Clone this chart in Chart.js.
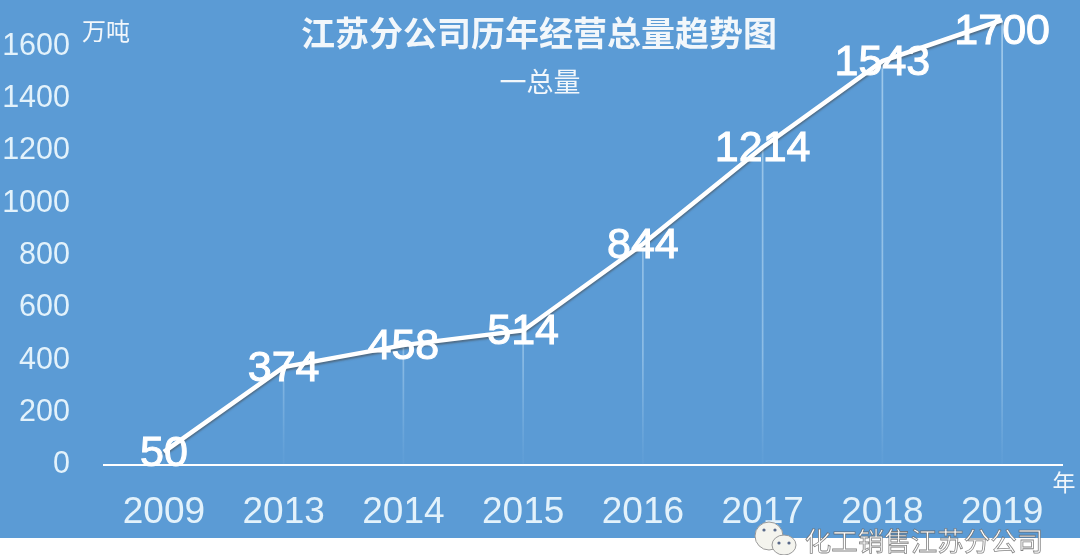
<!DOCTYPE html>
<html>
<head>
<meta charset="utf-8">
<title>江苏分公司历年经营总量趋势图</title>
<script src="https://cdn.jsdelivr.net/npm/chart.js@4/dist/chart.umd.min.js"></script>
<style>
    html, body { margin: 0; padding: 0; background: #fff; overflow: hidden; }
    #box { position: relative; width: 1080px; height: 555px; }
</style>
</head>
<body>
<div id="box"><canvas id="graficoLinha"></canvas></div>
<script>
const anos = ["2009", "2013", "2014", "2015", "2016", "2017", "2018", "2019"];
const totais = [50, 374, 458, 514, 844, 1214, 1543, 1700];
const ticksY = [0, 200, 400, 600, 800, 1000, 1200, 1400, 1600];

const titulo = "江苏分公司历年经营总量趋势图";
const legenda = "一总量";
const unidadeY = "万吨";
const unidadeX = "年";
const marcaDagua = "化工销售江苏分公司";

const azul = "#5b9bd5";
const claro = "#e3f2fb";
const fonte = '"Liberation Sans", "Noto Sans CJK SC", sans-serif';
const fonteCJK = '"Noto Sans CJK SC", sans-serif';

function texto(ctx, str, x, y, font, cor, align) {
    ctx.font = font;
    ctx.fillStyle = cor;
    ctx.textAlign = align || "center";
    ctx.textBaseline = "middle";
    ctx.fillText(str, x, y);
}

// fundo azul (a faixa de baixo fica branca)
const fundo = {
    id: "fundo",
    beforeDraw(chart) {
        const ctx = chart.ctx;
        ctx.save();
        ctx.fillStyle = azul;
        ctx.fillRect(0, 0, 1080, 538);
        ctx.restore();
    }
};

// sombra da linha
const sombra = {
    id: "sombra",
    beforeDatasetDraw(chart, args) {
        if (args.index !== 0) return;
        chart.ctx.save();
        chart.ctx.shadowColor = "rgba(70,70,70,0.55)";
        chart.ctx.shadowBlur = 2;
        chart.ctx.shadowOffsetY = 2;
    },
    afterDatasetDraw(chart, args) {
        if (args.index === 0) chart.ctx.restore();
    }
};

// valores, titulos e marca d'agua
const textos = {
    id: "textos",
    afterDraw(chart) {
        const ctx = chart.ctx;
        ctx.save();

        const pontos = chart.getDatasetMeta(0).data;
        pontos.forEach((p, i) => {
            const y = Math.max(p.y + 2, 32);
            texto(ctx, String(totais[i]), p.x, y, "43px " + fonte, "#fff");
            ctx.strokeStyle = "#fff";
            ctx.lineWidth = 1;
            ctx.strokeText(String(totais[i]), p.x, y);
        });

        texto(ctx, titulo, 539, 33, "bold 34px " + fonteCJK, "#f2f7fb");
        texto(ctx, legenda, 540, 82, "27px " + fonteCJK, "#f2f7fb");
        texto(ctx, unidadeY, 106, 31, "24px " + fonteCJK, "#f2f7fb");
        texto(ctx, unidadeX, 1064, 482, "23px " + fonteCJK, "#f2f7fb");

        // icone do wechat
        ctx.fillStyle = "#f4f4ee";
        ctx.strokeStyle = "#9a9a9a";
        ctx.lineWidth = 1;
        ctx.beginPath();
        ctx.ellipse(769, 536, 14, 14, 0, 0, Math.PI * 2);
        ctx.fill();
        ctx.stroke();
        ctx.beginPath();
        ctx.ellipse(784, 545, 12, 10, 0, 0, Math.PI * 2);
        ctx.fill();
        ctx.stroke();
        ctx.fillStyle = "#5a6a8a";
        [[764, 530], [775, 530], [779, 543], [789, 543]].forEach(o => {
            ctx.beginPath();
            ctx.arc(o[0], o[1], 1.6, 0, Math.PI * 2);
            ctx.fill();
        });

        texto(ctx, marcaDagua, 924, 541, "26.5px " + fonteCJK, "#fff");
        ctx.strokeStyle = "rgba(90,90,90,0.75)";
        ctx.lineWidth = 0.8;
        ctx.strokeText(marcaDagua, 924, 541);

        ctx.restore();
    }
};

// linhas verticais somem perto do eixo
function corVertical(context) {
    const area = context.chart.chartArea;
    if (!area) return "rgba(190,222,245,0.6)";
    const g = context.chart.ctx.createLinearGradient(0, area.top, 0, area.bottom);
    g.addColorStop(0, "rgba(190,222,245,0.7)");
    g.addColorStop(0.75, "rgba(190,222,245,0.5)");
    g.addColorStop(0.98, "rgba(190,222,245,0.05)");
    return g;
}

new Chart(document.getElementById("graficoLinha"), {
    data: {
        labels: anos,
        datasets: [
            {
                type: "line",
                data: totais,
                borderColor: "#fff",
                borderWidth: 4.5,
                pointRadius: 0,
                tension: 0,
                clip: false,
                order: 0
            },
            {
                // linhas verticais de cada ano
                type: "bar",
                data: totais,
                barThickness: 1,
                backgroundColor: corVertical,
                order: 1
            }
        ]
    },
    options: {
        responsive: true,
        maintainAspectRatio: false,
        animation: false,
        layout: { padding: { left: 0, right: 18, top: 20, bottom: 0 } },
        plugins: {
            legend: { display: false },
            tooltip: { enabled: false }
        },
        scales: {
            x: {
                offset: true,
                afterFit(scale) { scale.height = 90; },
                grid: { display: false, drawTicks: false },
                border: { display: true, color: "#fff", width: 2 },
                ticks: {
                    color: claro,
                    font: { size: 37, family: fonte },
                    padding: 26,
                    maxRotation: 0,
                    autoSkip: false
                }
            },
            y: {
                min: 0,
                max: 1700,
                afterFit(scale) {
                    scale.width = 104;
                    scale.paddingTop = 0;
                    scale.paddingBottom = 0;
                },
                afterBuildTicks(scale) { scale.ticks = ticksY.map(v => ({ value: v })); },
                grid: { display: false, drawTicks: false },
                border: { display: false },
                ticks: {
                    color: claro,
                    font: { size: 30.5, family: fonte },
                    padding: 34,
                    callback: v => String(v)
                }
            }
        }
    },
    plugins: [fundo, sombra, textos]
});
</script>
</body>
</html>
